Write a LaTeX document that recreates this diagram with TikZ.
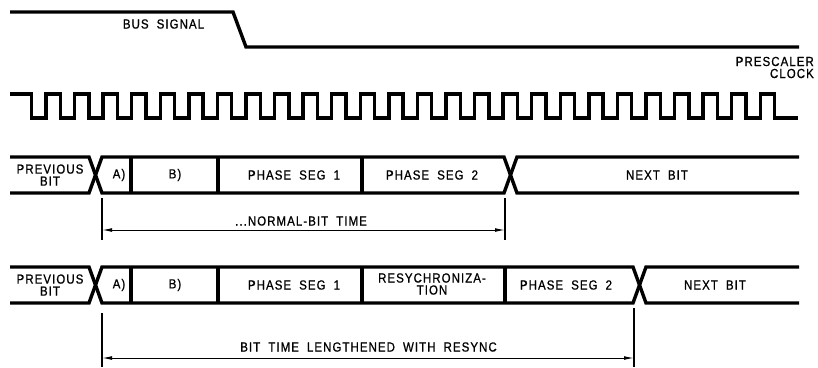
\documentclass[tikz,border=0pt]{standalone}
\usepackage{fontspec}
\setmainfont{Liberation Sans}[LetterSpace=8, FakeBold=0.8, FakeStretch=0.87, WordSpace=1.9]
\usetikzlibrary{arrows.meta, positioning, calc}
\tikzset{
    wave/.style={line width=3.4pt, line join=miter},
    sep/.style={line width=3.2pt},
    dimtick/.style={line width=1.2pt},
    dimline/.style={{Latex[length=10pt,width=3.8pt]}-{Latex[length=10pt,width=3.8pt]}, line width=1pt},
    lbl/.style={font=\fontsize{13.2}{12}\selectfont, inner sep=0pt, align=center},
}

\begin{document}
\begin{tikzpicture}[x=1pt, y=-1pt]
    \useasboundingbox (0,0) rectangle (818,367);

    % bus signal and prescaler clock
    \draw[wave] (10,12) -- (233,12) -- (246,47) -- (799,47);
    \node[lbl] (bus) at (163.5,24) {BUS SIGNAL};
    \node[lbl, align=right, anchor=east] (pclk) at (814,67.5) {PRESCALER\\CLOCK};
    \draw[wave] (10,94) -- (31.7,94)
        foreach \k in {1,...,26} { -- ++(0,24) -- ++(14.285,0) -- ++(0,-24) -- ++(14.285,0) }
        -- ++(0,24) -- (798,118);

    % normal bit
    \draw[wave] (10,157) -- (89,157) -- (102,193) -- (504,193) -- (517,157) -- (799,157);
    \draw[wave] (10,193) -- (89,193) -- (102,157) -- (504,157) -- (517,193) -- (799,193);
    \foreach \xs in {131,218,362} \draw[sep] (\xs,157) -- (\xs,193);
    \node[lbl] (prev1) at (50,175) {PREVIOUS\\BIT};
    \node[lbl] (a1) at (119,175) {A)};
    \node[lbl] (b1) at (175,175) {B)};
    \node[lbl] (seg1a) at (294,175) {PHASE SEG 1};
    \node[lbl] (seg2a) at (432,175) {PHASE SEG 2};
    \node[lbl] (next1) at (657,175) {NEXT BIT};

    \coordinate (n1t) at (102,198);
    \coordinate (n1b) at (102,240);
    \coordinate (n2t) at (505,198);
    \coordinate (n2b) at (505,240);
    \coordinate (nl) at (102,230);
    \coordinate (nr) at (505,230);
    \draw[dimtick] (n1t) -- (n1b);
    \draw[dimtick] (n2t) -- (n2b);
    \draw[dimline] (nl) -- (nr);
    \node[lbl] (normal) at (301,221) {...NORMAL-BIT TIME};

    % lengthened bit
    \draw[wave] (10,267) -- (89,267) -- (102,303) -- (633,303) -- (646,267) -- (799,267);
    \draw[wave] (10,303) -- (89,303) -- (102,267) -- (633,267) -- (646,303) -- (799,303);
    \foreach \xs in {131,218,362,505} \draw[sep] (\xs,267) -- (\xs,303);
    \node[lbl] (prev2) at (50,285) {PREVIOUS\\BIT};
    \node[lbl] (a2) at (119,285) {A)};
    \node[lbl] (b2) at (175,285) {B)};
    \node[lbl] (seg1b) at (294,285) {PHASE SEG 1};
    \node[lbl] (resync) at (432,284) {RESYCHRONIZA-\\TION};
    \node[lbl] (seg2b) at (566,285) {PHASE SEG 2};
    \node[lbl] (next2) at (715,285) {NEXT BIT};

    \coordinate (l1t) at (102,313);
    \coordinate (l1b) at (102,367);
    \coordinate (l2t) at (634,308);
    \coordinate (l2b) at (634,367);
    \coordinate (ll) at (102,358);
    \coordinate (lr) at (634,358);
    \draw[dimtick] (l1t) -- (l1b);
    \draw[dimtick] (l2t) -- (l2b);
    \draw[dimline] (ll) -- (lr);
    \node[lbl] (lengthened) at (368.5,347) {BIT TIME LENGTHENED WITH RESYNC};
\end{tikzpicture}
\end{document}
